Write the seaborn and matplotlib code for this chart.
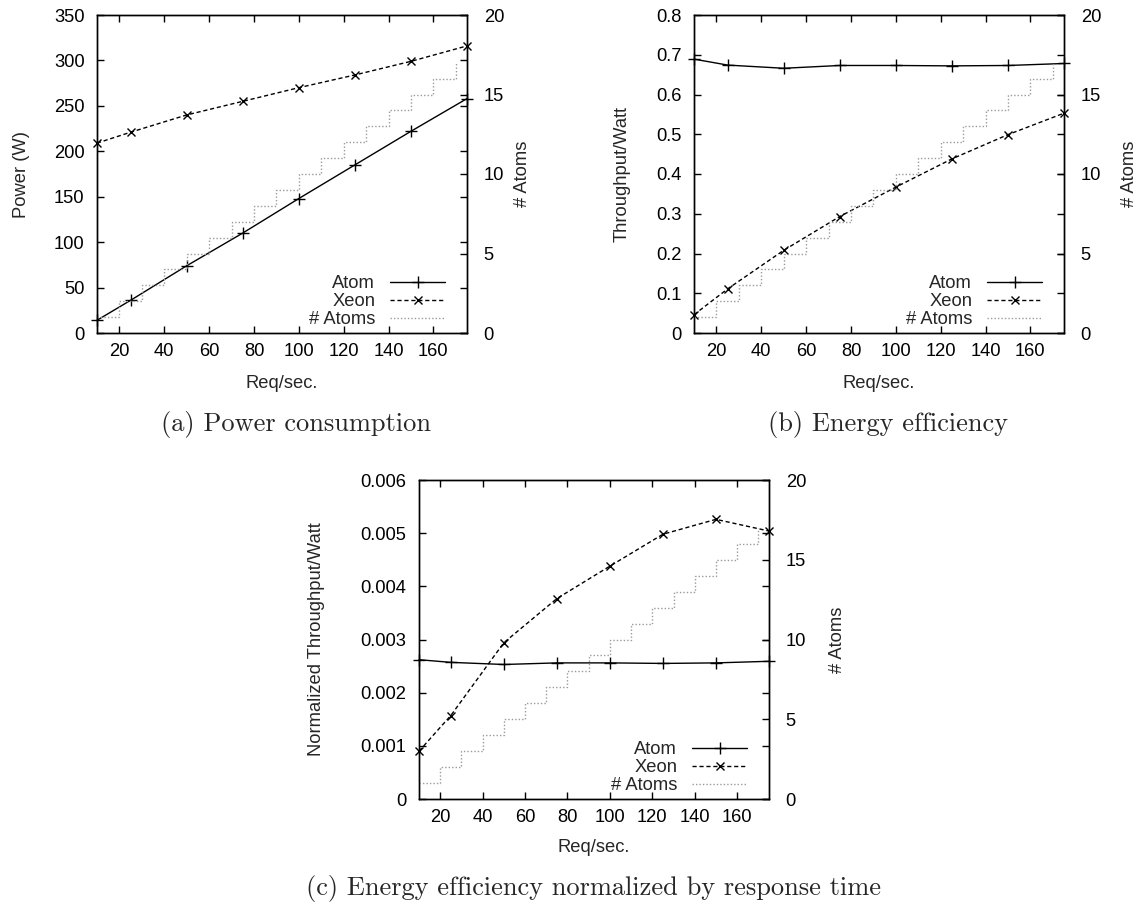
import numpy as np
import matplotlib
matplotlib.use("Agg")
import matplotlib.pyplot as plt
import seaborn as sns

# Offered load (requests per second)
req = [10, 25, 50, 75, 100, 125, 150, 175]

# (a) Power consumption (W)
atom_power = [14, 36, 74, 110, 148, 185, 222, 258]
xeon_power = [209, 221, 240, 255, 270, 284, 299, 316]

# (b) Energy efficiency (throughput / watt)
atom_eff = [0.689, 0.674, 0.666, 0.673, 0.673, 0.672, 0.673, 0.678]
xeon_eff = [0.046, 0.111, 0.208, 0.293, 0.367, 0.438, 0.499, 0.553]

# (c) Energy efficiency normalized by response time
atom_norm = [0.00262, 0.00257, 0.00253, 0.00256, 0.00256, 0.00255, 0.00256, 0.00259]
xeon_norm = [0.00090, 0.00157, 0.00294, 0.00377, 0.00438, 0.00498, 0.00526, 0.00504]

# Number of Atom servers needed for a given load
atoms_req = [10, 20, 30, 40, 50, 60, 70, 80, 90, 100, 110, 120, 130, 140, 150, 160, 170]
atoms_count = [1, 2, 3, 4, 5, 6, 7, 8, 9, 10, 11, 12, 13, 14, 15, 16, 17]

x_ticks = [20, 40, 60, 80, 100, 120, 140, 160]

FS = 13.2

sns.set_style("ticks")
plt.rcParams["font.family"] = ["Liberation Sans", "DejaVu Sans"]
plt.rcParams["font.size"] = FS

W, H = 1143, 907
fig = plt.figure(figsize=(W / 100, H / 100), dpi=100)


def px_axes(left, top, right, bottom):
    return fig.add_axes([left / W, 1 - bottom / H, (right - left) / W, (bottom - top) / H])


def panel(box, atom, xeon, ylim, ystep, ylabel, ylab_x, y2lab_x, xlab_y):
    ax = px_axes(*box)
    ax2 = ax.twinx()
    sns.lineplot(x=req, y=atom, ax=ax, color="black", linewidth=1.0, marker="+",
                 markersize=8, markeredgewidth=1.0, markeredgecolor="black",
                 clip_on=False, legend=False, estimator=None)
    sns.lineplot(x=req, y=xeon, ax=ax, color="black", linewidth=1.0, marker="x",
                 markersize=6, markeredgewidth=1.0, markeredgecolor="black",
                 linestyle=(0, (3, 2)), clip_on=False, legend=False, estimator=None)
    sns.lineplot(x=atoms_req, y=atoms_count, ax=ax2, color="#9a9a9a", linewidth=1.0,
                 linestyle=(0, (1, 1.5)), drawstyle="steps-post", legend=False,
                 estimator=None)
    h_atom, h_xeon = ax.lines[0], ax.lines[1]
    h_cnt = ax2.lines[0]

    ax.set_xlim(10, 175)
    ax.set_ylim(*ylim)
    ax2.set_ylim(0, 20)
    ax.set_xticks(x_ticks)
    yt = np.round(np.arange(ylim[0], ylim[1] + ystep / 2, ystep), 6)
    ax.set_yticks(yt)
    ax.set_yticklabels(["%g" % v for v in yt])
    ax2.set_yticks([0, 5, 10, 15, 20])

    ax.tick_params(axis="x", direction="in", length=5, width=1, top=True, pad=7,
                   labelsize=FS, colors="black")
    ax.tick_params(axis="y", direction="in", length=5, width=1, right=True, pad=9,
                   labelsize=FS, colors="black")
    ax2.tick_params(axis="y", direction="in", length=5, width=1, pad=12,
                    labelsize=FS, colors="black")
    for a in (ax, ax2):
        for s in a.spines.values():
            s.set_visible(True)
            s.set_linewidth(1.0)
            s.set_color("black")
    ax.grid(False)
    ax2.grid(False)

    ax.set_xlabel("Req/sec.", fontsize=FS, va="center")
    ax.xaxis.set_label_coords(0.5, xlab_y)
    ax.set_ylabel(ylabel, fontsize=FS, va="center")
    ax.yaxis.set_label_coords(ylab_x, 0.5)
    ax2.set_ylabel("# Atoms", fontsize=FS, va="center", rotation=90)
    ax2.yaxis.set_label_coords(y2lab_x, 0.5)

    width = box[2] - box[0]
    height = box[3] - box[1]
    ax2.legend([h_atom, h_xeon, h_cnt], ["Atom", "Xeon", "# Atoms"],
               loc="lower right", bbox_to_anchor=(1 - 22 / width, 5 / height),
               bbox_transform=ax2.transAxes, frameon=False, markerfirst=False,
               borderpad=0, borderaxespad=0, handlelength=3.0, handletextpad=0.8,
               labelspacing=0.05, fontsize=FS, numpoints=1)
    return ax, ax2


panel((97, 15, 467, 333), atom_power, xeon_power, (0, 350), 50, "Power (W)",
      (22 - 97) / 370, (522 - 97) / 370, -50 / 318)
panel((694, 15, 1064, 333), atom_eff, xeon_eff, (0, 0.8), 0.1, "Throughput/Watt",
      (622 - 694) / 370, (1130 - 694) / 370, -50 / 318)
panel((419, 480, 769, 799), atom_norm, xeon_norm, (0, 0.006), 0.001,
      "Normalized Throughput/Watt", (316 - 419) / 350, (837 - 419) / 350, -48 / 319)

cap = dict(family="cmr10", fontsize=19, ha="center", va="center")
fig.text(296 / W, 1 - 425 / H, "(a) Power consumption", **cap)
fig.text(888 / W, 1 - 425 / H, "(b) Energy efficiency", **cap)
fig.text(594 / W, 1 - 888 / H, "(c) Energy efficiency normalized by response time", **cap)

fig.savefig("out.png", dpi=100)
